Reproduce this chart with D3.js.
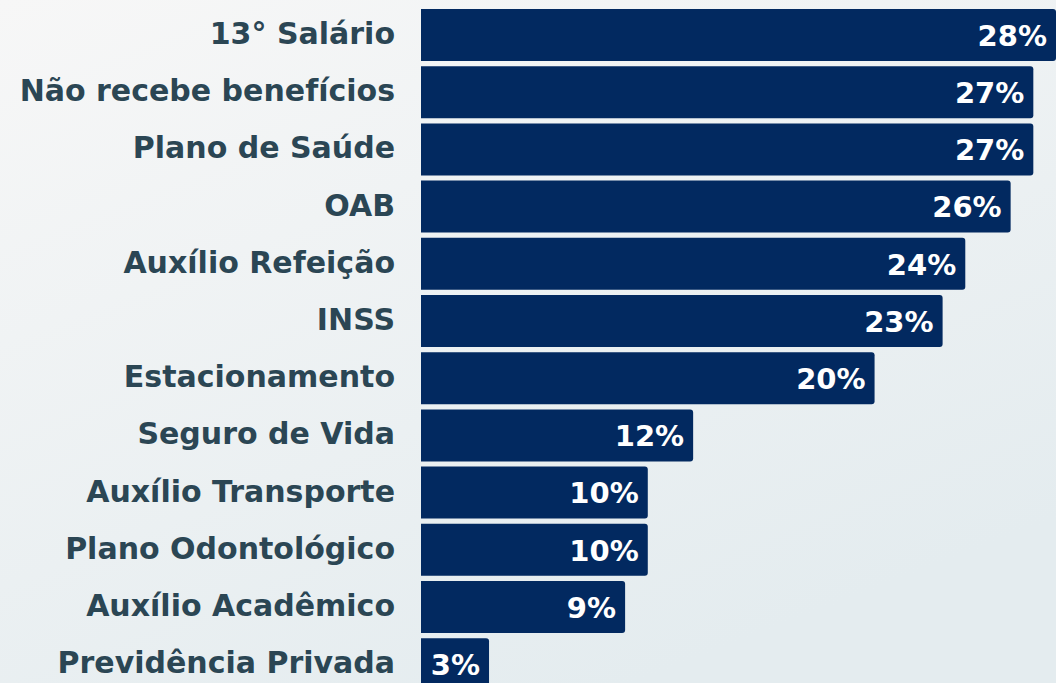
<!doctype html>
<html>
<head>
<meta charset="UTF-8">
<title>Benefícios</title>
<script src="https://d3js.org/d3.v7.min.js"></script>
<style>
	body { margin: 0; overflow: hidden; }
	.label { font: 700 30px "DejaVu Sans", sans-serif; fill: #2b4654; }
	.value { font: 700 29px "DejaVu Sans", sans-serif; fill: #ffffff; }
</style>
</head>
<body>
<svg class="chart" width="1056" height="683"></svg>
<script>
var categories = ['13° Salário', 'Não recebe benefícios', 'Plano de Saúde', 'OAB',
	'Auxílio Refeição', 'INSS', 'Estacionamento', 'Seguro de Vida',
	'Auxílio Transporte', 'Plano Odontológico', 'Auxílio Acadêmico', 'Previdência Privada'];
var values = [28, 27, 27, 26, 24, 23, 20, 12, 10, 10, 9, 3];

var chart = d3.select('.chart');
var defs = chart.append('defs');
var grad = defs.append('linearGradient')
	.attr('id', 'bg')
	.attr('x1', 0).attr('y1', 0).attr('x2', 0.6).attr('y2', 1);
grad.append('stop').attr('offset', 0).attr('stop-color', '#f7f7f7');
grad.append('stop').attr('offset', 1).attr('stop-color', '#e4ecef');
chart.append('rect')
	.attr('width', 1056).attr('height', 683)
	.attr('fill', 'url(#bg)');

var pitch = 57.2;
var gap = 5.2;
var x = d3.scaleLinear()
	.domain([0, 28])
	.range([421, 1056]);
var y = d3.scaleBand()
	.domain(categories)
	.range([9, 9 + pitch * categories.length - gap])
	.paddingInner(gap / pitch)
	.paddingOuter(0);

var data = categories.map(function(c, i) {
	return {name: c, value: values[i]};
});

var row = chart.selectAll('.row')
	.data(data)
	.enter().append('g')
	.attr('class', 'row');

row.append('path')
	.attr('fill', '#022960')
	.attr('d', function(d) {
		var x0 = x(0), x1 = x(d.value), y0 = y(d.name), h = y.bandwidth(), r = 3;
		return 'M' + x0 + ',' + y0 + 'H' + (x1 - r) + 'Q' + x1 + ',' + y0 + ' ' + x1 + ',' + (y0 + r) +
			'V' + (y0 + h - r) + 'Q' + x1 + ',' + (y0 + h) + ' ' + (x1 - r) + ',' + (y0 + h) +
			'H' + x0 + 'Z';
	});

row.append('text')
	.attr('class', 'label')
	.attr('x', 395)
	.attr('y', function(d) { return y(d.name) + y.bandwidth() / 2; })
	.attr('dy', '0.3em')
	.attr('text-anchor', 'end')
	.text(function(d) { return d.name; });

row.append('text')
	.attr('class', 'value')
	.attr('x', function(d) { return x(d.value) - 9; })
	.attr('y', function(d) { return y(d.name) + y.bandwidth() / 2; })
	.attr('dy', '0.37em')
	.attr('text-anchor', 'end')
	.text(function(d) { return d.value + '%'; });
</script>
</body>
</html>
